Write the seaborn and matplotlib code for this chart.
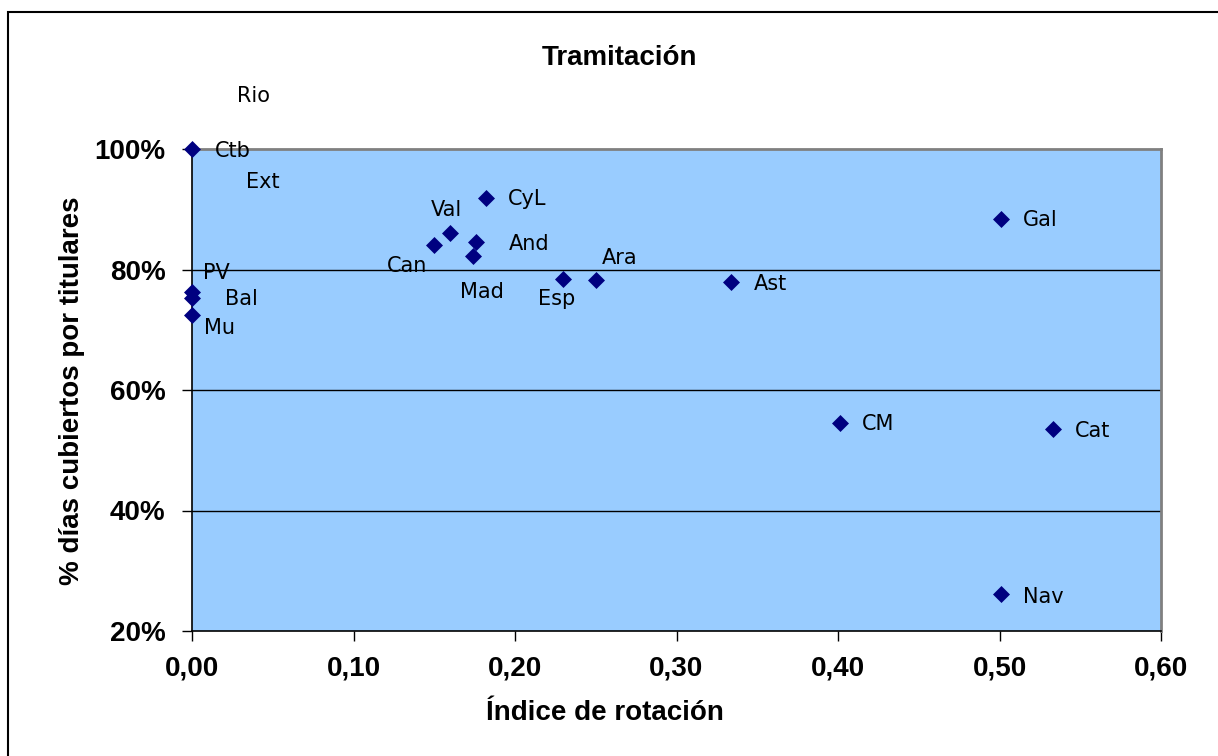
import matplotlib
matplotlib.use("Agg")
import matplotlib.pyplot as plt
from matplotlib.patches import Rectangle
from matplotlib.ticker import FuncFormatter, MultipleLocator
import seaborn as sns
import pandas as pd

# datos
regiones = ['Ctb', 'PV', 'Bal', 'Mu', 'Can', 'Val', 'And', 'Mad', 'CyL',
            'Esp', 'Ara', 'Ast', 'Gal', 'CM', 'Cat', 'Nav']
indice_rotacion = [0.000, 0.000, 0.000, 0.000, 0.150, 0.160, 0.176, 0.174, 0.182,
                   0.230, 0.250, 0.334, 0.501, 0.401, 0.533, 0.501]
dias_cubiertos = [1.000, 0.762, 0.752, 0.725, 0.840, 0.861, 0.846, 0.823, 0.918,
                  0.785, 0.782, 0.780, 0.883, 0.546, 0.536, 0.261]

# etiquetas sin marcador visible
etiquetas_sueltas = ['Rio', 'Ext']
etiquetas_x = [0.0279, 0.0335]
etiquetas_y = [1.088, 0.945]

# desplazamiento de cada etiqueta (pixeles, y hacia abajo)
desplazamientos = {
    'Ctb': (23, 2), 'PV': (11, -19), 'Bal': (33, 1), 'Mu': (12, 13),
    'Can': (-47, 21), 'Val': (-20, -23), 'And': (33, 2), 'Mad': (-13, 36),
    'CyL': (22, 1), 'Esp': (-25, 20), 'Ara': (6, -22), 'Ast': (22, 2),
    'Gal': (22, 1), 'CM': (22, 1), 'Cat': (22, 2), 'Nav': (22, 3),
}

df = pd.DataFrame({'region': regiones, 'x': indice_rotacion, 'y': dias_cubiertos})

sns.set_style("white")
plt.rcParams['font.family'] = ['Liberation Sans', 'DejaVu Sans']
plt.rcParams['text.color'] = 'black'
plt.rcParams['xtick.color'] = 'black'
plt.rcParams['ytick.color'] = 'black'

fig = plt.figure(figsize=(12.18, 7.56), dpi=100)
ax = fig.add_axes([192 / 1218, 1 - 631 / 756, 969 / 1218, 482 / 756])
ax.set_facecolor('#99CCFF')

sns.scatterplot(data=df, x='x', y='y', marker='D', color='#000080',
                s=75, edgecolor='#000080', linewidth=0, ax=ax, clip_on=False, zorder=5)

for reg, xv, yv in zip(regiones, indice_rotacion, dias_cubiertos):
    dx, dy = desplazamientos[reg]
    ax.annotate(reg, (xv, yv), xytext=(dx, -dy), textcoords='offset pixels',
                ha='left', va='center', fontsize=15, family='DejaVu Sans',
                color='black', annotation_clip=False, zorder=6)

for etq, xv, yv in zip(etiquetas_sueltas, etiquetas_x, etiquetas_y):
    ax.text(xv, yv, etq, ha='left', va='center', fontsize=15,
            family='DejaVu Sans', color='black', clip_on=False)

ax.set_xlim(0, 0.6)
ax.set_ylim(0.2, 1.0)
ax.xaxis.set_major_locator(MultipleLocator(0.1))
ax.yaxis.set_major_locator(MultipleLocator(0.2))
ax.xaxis.set_major_formatter(FuncFormatter(lambda v, p: f"{v:.2f}".replace('.', ',')))
ax.yaxis.set_major_formatter(FuncFormatter(lambda v, p: f"{v:.0%}"))

for yv in [0.4, 0.6, 0.8]:
    ax.axhline(yv, color='black', lw=1.0, zorder=1)

ax.tick_params(axis='both', which='major', direction='out', length=7, width=1,
               color='black', labelcolor='black', labelsize=20)
ax.tick_params(axis='y', pad=12, left=True)
ax.tick_params(axis='x', pad=11, bottom=True)
for lab in ax.get_xticklabels() + ax.get_yticklabels():
    lab.set_fontweight('bold')

ax.spines['left'].set_color('black')
ax.spines['bottom'].set_color('black')
ax.spines['left'].set_linewidth(1.2)
ax.spines['bottom'].set_linewidth(1.2)
for s in ['top', 'right']:
    ax.spines[s].set_color('#808080')
    ax.spines[s].set_linewidth(2)

ax.set_xlabel('')
ax.set_ylabel('')
fig.text(620 / 1218, 1 - 58 / 756, 'Tramitación', ha='center', va='center',
         fontsize=20, fontweight='bold', color='black')
fig.text(605 / 1218, 1 - 713 / 756, 'Índice de rotación', ha='center', va='center',
         fontsize=20, fontweight='bold', color='black')
fig.text(72 / 1218, 1 - 391 / 756, '% días cubiertos por titulares', ha='center',
         va='center', rotation=90, fontsize=20, fontweight='bold', color='black')

# marco exterior
fig.patches.append(Rectangle((8 / 1218, -0.05), 1.0, 1 - 12 / 756 + 0.05,
                             transform=fig.transFigure, fill=False,
                             edgecolor='black', lw=1.5))

fig.savefig('out.png', dpi=100)
